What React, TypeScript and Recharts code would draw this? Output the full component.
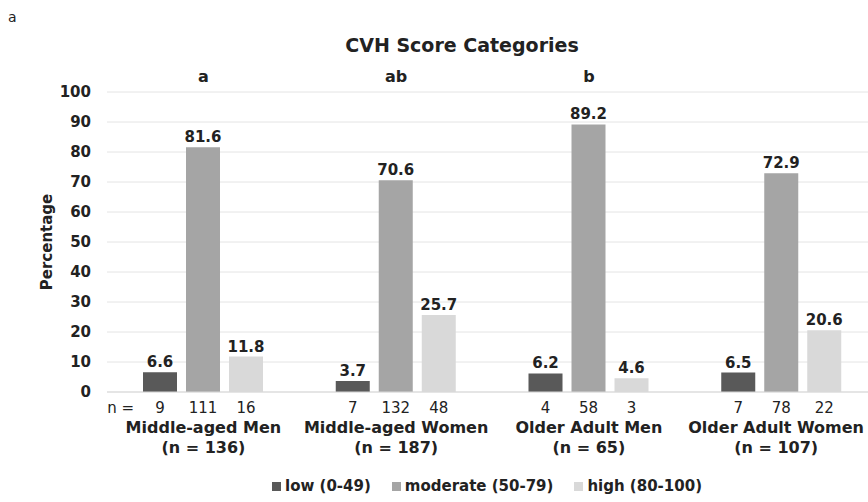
import React from 'react';
import { BarChart, Bar, XAxis, YAxis, CartesianGrid, Legend, LabelList } from 'recharts';

const categories = ['Middle-aged Men', 'Middle-aged Women', 'Older Adult Men', 'Older Adult Women'];
const groupN = [136, 187, 65, 107];
const sigLetters = ['a', 'ab', 'b', ''];
const lowPct = [6.6, 3.7, 6.2, 6.5];
const moderatePct = [81.6, 70.6, 89.2, 72.9];
const highPct = [11.8, 25.7, 4.6, 20.6];
const lowN = [9, 7, 4, 7];
const moderateN = [111, 132, 58, 78];
const highN = [16, 48, 3, 22];
const yTicks = [0, 10, 20, 30, 40, 50, 60, 70, 80, 90, 100];

const FONT = '"DejaVu Sans", sans-serif';
const INK = '#222';
const VIEW_W = 868;

const rows = categories.map((c, i) => ({
  category: c,
  total: groupN[i],
  sig: sigLetters[i],
  low: lowPct[i],
  moderate: moderatePct[i],
  high: highPct[i],
  lowN: lowN[i],
  moderateN: moderateN[i],
  highN: highN[i],
}));

const series = [
  { key: 'low', nKey: 'lowN', name: 'low (0-49)', color: '#595959' },
  { key: 'moderate', nKey: 'moderateN', name: 'moderate (50-79)', color: '#a5a5a5' },
  { key: 'high', nKey: 'highN', name: 'high (80-100)', color: '#d9d9d9' },
];

// rough text width so the last category label stays inside the picture, like Excel does
let ctx: CanvasRenderingContext2D | null = null;
const textWidth = (s: string, font: string) => {
  if (!ctx) ctx = document.createElement('canvas').getContext('2d');
  if (!ctx) return s.length * 10;
  ctx.font = font;
  return ctx.measureText(s).width;
};

const CategoryTick = (props: any) => {
  const { x, y, payload, index } = props;
  const total = rows[index] ? rows[index].total : '';
  const half = textWidth(String(payload.value), `bold 16px ${FONT}`) / 2;
  const cx = Math.min(x, VIEW_W - 4 - half);
  return (
    <g>
      <text x={cx} y={y + 39} textAnchor="middle" fontFamily={FONT} fontWeight="bold" fontSize={16} fill={INK}>
        {payload.value}
      </text>
      <text x={cx} y={y + 59} textAnchor="middle" fontFamily={FONT} fontWeight="bold" fontSize={16} fill={INK}>
        {`(n = ${total})`}
      </text>
    </g>
  );
};

const SigTick = (props: any) => {
  const { x, y, payload } = props;
  return (
    <text x={x} y={y - 8} textAnchor="middle" fontFamily={FONT} fontWeight="bold" fontSize={16} fill={INK}>
      {payload.value}
    </text>
  );
};

const makeNLabel = (first: boolean) => (props: any) => {
  const vb = props.viewBox || props;
  const cx = vb.x + vb.width / 2;
  const base = vb.y + vb.height + 21;
  return (
    <g>
      {first && props.index === 0 ? (
        <text x={vb.x - 9} y={base} textAnchor="end" fontFamily={FONT} fontSize={15} fill={INK}>
          n =
        </text>
      ) : null}
      <text x={cx} y={base} textAnchor="middle" fontFamily={FONT} fontSize={15} fill={INK}>
        {props.value}
      </text>
    </g>
  );
};

const YLabel = (props: any) => {
  const vb = props.viewBox;
  const cx = vb.x + 47;
  const cy = vb.y + vb.height / 2;
  return (
    <text
      x={cx}
      y={cy}
      transform={`rotate(-90, ${cx}, ${cy})`}
      textAnchor="middle"
      dominantBaseline="central"
      fontFamily={FONT}
      fontWeight="bold"
      fontSize={15}
      fill={INK}
    >
      Percentage
    </text>
  );
};

const LegendContent = () => (
  <div style={{ display: 'flex', justifyContent: 'center', gap: 21, fontFamily: FONT, fontWeight: 'bold', fontSize: 15, color: INK }}>
    {series.map((s) => (
      <div key={s.key} style={{ display: 'flex', alignItems: 'center', gap: 4 }}>
        <span style={{ display: 'inline-block', width: 9, height: 9, background: s.color }} />
        <span>{s.name}</span>
      </div>
    ))}
  </div>
);

const App = () => {
  return (
    <div style={{ position: 'absolute', left: 0, top: 0, width: VIEW_W, height: 502, overflow: 'hidden', background: '#fff' }}>
      <div style={{ position: 'absolute', left: 8, top: 9, fontFamily: FONT, fontSize: 14, color: INK }}>a</div>
      <div
        style={{
          position: 'absolute',
          left: 0,
          top: 35,
          width: 924,
          textAlign: 'center',
          fontFamily: FONT,
          fontWeight: 'bold',
          fontSize: 19,
          lineHeight: '20px',
          color: INK,
        }}
      >
        CVH Score Categories
      </div>
      <BarChart width={878} height={502} data={rows} margin={{ top: 62, right: 0, bottom: 0, left: 0 }} barSize={34} barGap={9}>
        <CartesianGrid vertical={false} stroke="#e4e4e4" />
        <XAxis
          xAxisId="bottom"
          dataKey="category"
          height={110}
          interval={0}
          axisLine={{ stroke: '#d9d9d9' }}
          tickLine={false}
          tickSize={0}
          tick={<CategoryTick />}
        />
        <XAxis
          xAxisId="top"
          orientation="top"
          dataKey="sig"
          height={30}
          interval={0}
          axisLine={false}
          tickLine={false}
          tickSize={0}
          tick={<SigTick />}
        />
        <YAxis
          width={107}
          domain={[0, 100]}
          ticks={yTicks}
          axisLine={false}
          tickLine={false}
          tickSize={0}
          tickMargin={16}
          tick={{ fontFamily: FONT, fontWeight: 'bold', fontSize: 15, fill: INK }}
          label={<YLabel />}
        />
        <Legend
          verticalAlign="middle"
          align="center"
          layout="horizontal"
          wrapperStyle={{ top: 477, left: 0, width: 974 }}
          content={<LegendContent />}
        />
        {series.map((s, si) => (
          <Bar key={s.key} xAxisId="bottom" dataKey={s.key} name={s.name} fill={s.color} isAnimationActive={false}>
            <LabelList
              dataKey={s.key}
              position="top"
              offset={5}
              style={{ fontFamily: FONT, fontWeight: 'bold', fontSize: 15, fill: INK }}
            />
            <LabelList dataKey={s.nKey} content={makeNLabel(si === 0)} />
          </Bar>
        ))}
      </BarChart>
    </div>
  );
};

export default App;
